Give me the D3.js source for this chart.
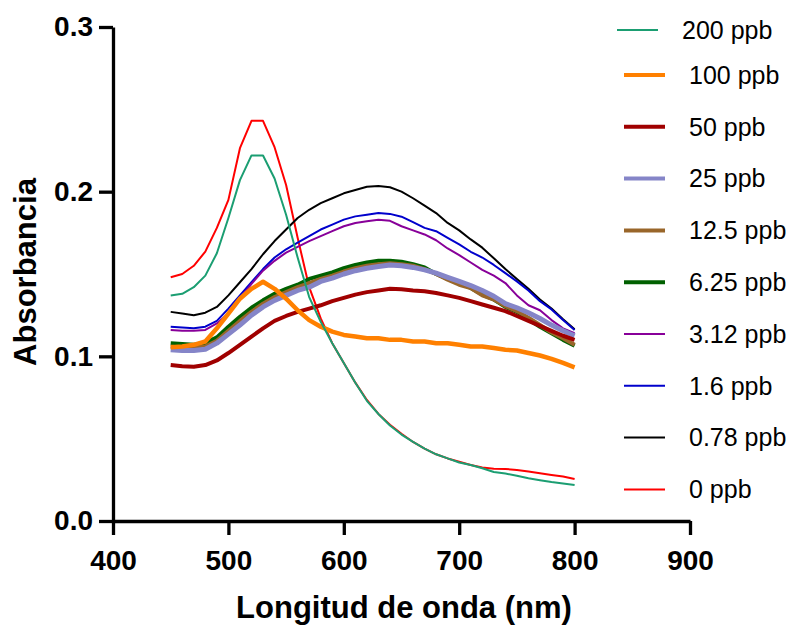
<!DOCTYPE html>
<html>
<head>
<meta charset="utf-8">
<script src="https://cdn.jsdelivr.net/npm/d3@7"></script>
<style>
  body { margin: 0; background: #fff; }
  svg { font-family: "Liberation Sans", Arial, sans-serif; }
</style>
</head>
<body>
<div id="chart"></div>
<script>
// wavelengths (nm)
const wavelengths = [450, 460, 470, 480, 490, 500, 510, 520, 530, 540, 550, 560, 570, 580, 590, 600, 610, 620,
  630, 640, 650, 660, 670, 680, 690, 700, 710, 720, 730, 740, 750, 760, 770, 780, 790, 800];

const labels = ["200 ppb", "100 ppb", "50 ppb", "25 ppb", "12.5 ppb", "6.25 ppb", "3.12 ppb", "1.6 ppb", "0.78 ppb", "0 ppb"];

const a200 = [0.137, 0.138, 0.142, 0.149, 0.1626, 0.184, 0.207, 0.222, 0.222, 0.208, 0.186, 0.160, 0.136, 0.121, 0.108, 0.096, 0.084, 0.073,
  0.065, 0.058, 0.0525, 0.048, 0.044, 0.0405, 0.038, 0.0355, 0.034, 0.032, 0.0298, 0.0288, 0.0275, 0.026, 0.0248, 0.0237, 0.0228, 0.0219];
const a100 = [0.1055, 0.106, 0.107, 0.109, 0.117, 0.126, 0.135, 0.141, 0.1453, 0.141, 0.135, 0.128, 0.122, 0.118, 0.115, 0.113, 0.112, 0.111,
  0.111, 0.110, 0.110, 0.109, 0.109, 0.108, 0.108, 0.107, 0.106, 0.106, 0.105, 0.104, 0.1035, 0.102, 0.1005, 0.0985, 0.096, 0.0933];
const a50 = [0.0947, 0.094, 0.0937, 0.0947, 0.0975, 0.102, 0.107, 0.112, 0.117, 0.1215, 0.1245, 0.127, 0.129, 0.131, 0.1335, 0.1355, 0.1375, 0.139,
  0.140, 0.141, 0.1407, 0.140, 0.1395, 0.1385, 0.137, 0.1355, 0.1335, 0.1315, 0.1295, 0.1275, 0.1245, 0.1215, 0.1185, 0.1155, 0.1125, 0.110];
const a25 = [0.104, 0.1035, 0.1035, 0.1043, 0.108, 0.1135, 0.119, 0.125, 0.130, 0.134, 0.137, 0.140, 0.142, 0.1455, 0.1475, 0.150, 0.152, 0.1535,
  0.1545, 0.1555, 0.155, 0.154, 0.1525, 0.1505, 0.148, 0.1455, 0.143, 0.140, 0.1365, 0.132, 0.1295, 0.1265, 0.123, 0.119, 0.1155, 0.1125];
const a12 = [0.106, 0.105, 0.105, 0.106, 0.1095, 0.1155, 0.1215, 0.127, 0.132, 0.136, 0.139, 0.142, 0.1445, 0.147, 0.149, 0.1515, 0.1535, 0.155,
  0.156, 0.1565, 0.156, 0.155, 0.153, 0.150, 0.1465, 0.1435, 0.1415, 0.137, 0.1345, 0.1305, 0.1275, 0.1235, 0.119, 0.1145, 0.111, 0.107];
const a6 = [0.108, 0.1075, 0.107, 0.108, 0.1115, 0.118, 0.124, 0.1295, 0.134, 0.138, 0.141, 0.1435, 0.147, 0.149, 0.151, 0.1535, 0.1555, 0.157,
  0.158, 0.158, 0.1575, 0.156, 0.154, 0.150, 0.147, 0.1445, 0.1415, 0.1375, 0.1345, 0.130, 0.127, 0.1225, 0.118, 0.114, 0.110, 0.1065];
const a3 = [0.116, 0.1155, 0.1155, 0.116, 0.120, 0.126, 0.135, 0.144, 0.152, 0.158, 0.163, 0.1665, 0.170, 0.173, 0.176, 0.179, 0.181, 0.182,
  0.183, 0.1823, 0.179, 0.1765, 0.174, 0.1705, 0.1655, 0.1615, 0.157, 0.1525, 0.149, 0.1445, 0.137, 0.131, 0.128, 0.122, 0.117, 0.114];
const a16 = [0.118, 0.1175, 0.117, 0.118, 0.1215, 0.129, 0.137, 0.145, 0.153, 0.160, 0.165, 0.169, 0.173, 0.177, 0.180, 0.183, 0.185, 0.186,
  0.187, 0.1865, 0.1848, 0.1815, 0.178, 0.176, 0.172, 0.168, 0.1635, 0.160, 0.1555, 0.1505, 0.1455, 0.140, 0.1335, 0.1285, 0.122, 0.116];
const a078 = [0.127, 0.126, 0.125, 0.1265, 0.130, 0.137, 0.145, 0.153, 0.162, 0.170, 0.177, 0.184, 0.189, 0.193, 0.196, 0.199, 0.201, 0.203,
  0.2034, 0.2027, 0.200, 0.196, 0.1915, 0.187, 0.181, 0.1765, 0.171, 0.166, 0.1595, 0.153, 0.147, 0.141, 0.1345, 0.129, 0.1225, 0.1164];
const a0 = [0.148, 0.150, 0.155, 0.1636, 0.178, 0.195, 0.2264, 0.243, 0.243, 0.227, 0.204, 0.172, 0.142, 0.123, 0.108, 0.096, 0.084, 0.0735,
  0.065, 0.0585, 0.053, 0.048, 0.044, 0.0405, 0.038, 0.036, 0.034, 0.0325, 0.0318, 0.0316, 0.031, 0.030, 0.029, 0.028, 0.027, 0.0255];

const seriesValues = [a200, a100, a50, a25, a12, a6, a3, a16, a078, a0];
const colors = ["#1b9e72", "#ff8000", "#a00000", "#8585c8", "#99662a", "#006000", "#880099", "#0000cc", "#000000", "#ff0000"];
const widths = [2, 4.5, 4, 5, 4, 4, 2, 2, 2, 2];

const xTicks = [400, 500, 600, 700, 800, 900];
const yTicks = [0.0, 0.1, 0.2, 0.3];

const width = 793, height = 625;

const svg = d3.select("#chart").append("svg")
  .attr("width", width)
  .attr("height", height);

const x = d3.scaleLinear().domain([400, 900]).range([113, 690]);
const y = d3.scaleLinear().domain([0, 0.3]).range([521, 27]);

// lines, first series ends up on top
const line = d3.line()
  .x((d, i) => x(wavelengths[i]))
  .y(d => y(d));

const order = d3.range(seriesValues.length).reverse();
svg.append("g")
  .selectAll("path")
  .data(order)
  .enter().append("path")
  .attr("d", i => line(seriesValues[i]))
  .attr("fill", "none")
  .attr("stroke", i => colors[i])
  .attr("stroke-width", i => widths[i])
  .attr("stroke-linejoin", "round");

// axes
const xAxis = svg.append("g")
  .attr("transform", `translate(0,${y(0)})`)
  .call(d3.axisBottom(x).tickValues(xTicks).tickSize(14).tickSizeOuter(0).tickPadding(15));

const yAxis = svg.append("g")
  .attr("transform", `translate(${x(400)},0)`)
  .call(d3.axisLeft(y).tickValues(yTicks).tickSize(14).tickSizeOuter(0).tickPadding(6)
    .tickFormat(d3.format(".1f")));

[xAxis, yAxis].forEach(g => {
  g.select(".domain").attr("stroke", "#000").attr("stroke-width", 3.3);
  g.selectAll(".tick line").attr("stroke", "#000").attr("stroke-width", 3.3);
  g.selectAll(".tick text")
    .attr("fill", "#000")
    .style("font-size", "28px")
    .style("font-weight", "bold")
    .style("font-family", "'Liberation Sans', Arial, sans-serif");
});

// axis titles
svg.append("text")
  .attr("x", 404)
  .attr("y", 618)
  .attr("text-anchor", "middle")
  .style("font-size", "31px")
  .style("font-weight", "bold")
  .text("Longitud de onda (nm)");

svg.append("text")
  .attr("transform", "translate(36,272) rotate(-90)")
  .attr("text-anchor", "middle")
  .style("font-size", "31px")
  .style("font-weight", "bold")
  .text("Absorbancia");

// legend
const legendY = i => i === 0 ? 30 : 75 + (i - 1) * 51.8;
const shift = i => i === 0 ? -7 : 0;

const legend = svg.append("g")
  .selectAll("g")
  .data(labels)
  .enter().append("g")
  .attr("transform", (d, i) => `translate(${shift(i)},${legendY(i)})`);

legend.append("line")
  .attr("x1", 624)
  .attr("x2", 665)
  .attr("stroke", (d, i) => colors[i])
  .attr("stroke-width", (d, i) => Math.min(widths[i], 4));

legend.append("text")
  .attr("x", 689)
  .attr("dy", "0.35em")
  .style("font-size", "25px")
  .text(d => d);
</script>
</body>
</html>
